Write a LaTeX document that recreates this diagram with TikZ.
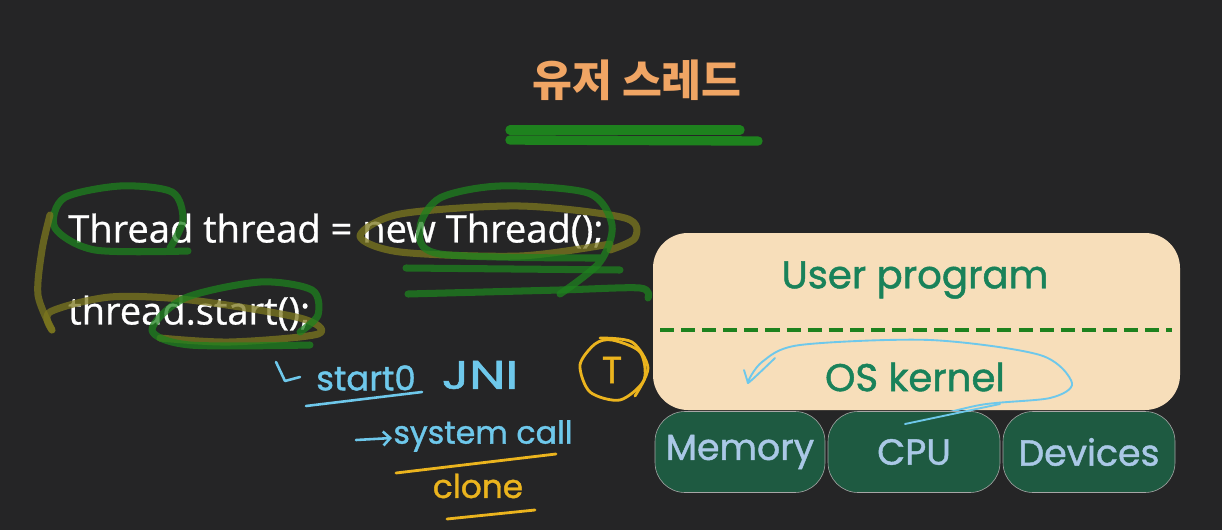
\documentclass[tikz,border=0pt]{standalone}
\usepackage{fontspec}
\setmainfont{Open Sans}
\newfontfamily\codefont{Open Sans}[FakeBold=0.8]
\newfontfamily\krfont{Noto Sans CJK KR}
\newfontfamily\handfont{Poppins}[FakeBold=1.2]
\usepackage{tikz}
\usetikzlibrary{calc,arrows.meta}

\definecolor{boardbg}{RGB}{37,37,38}
\definecolor{titleorange}{RGB}{240,165,100}
\definecolor{markgreen}{RGB}{30,130,30}
\definecolor{markolive}{RGB}{125,120,30}
\definecolor{penblue}{RGB}{110,200,235}
\definecolor{penyellow}{RGB}{235,180,30}
\definecolor{peach}{RGB}{247,222,186}
\definecolor{labelgreen}{RGB}{25,130,90}
\definecolor{boxgreen}{RGB}{30,90,65}
\definecolor{boxtext}{RGB}{170,200,230}

\tikzset{
  hlgreen/.style={line width=6pt, color=markgreen, opacity=0.75, line cap=round, line join=round},
  hlolive/.style={line width=6pt, color=markolive, opacity=0.75, line cap=round, line join=round},
  pen/.style={line width=2.2pt, color=penblue, line cap=round, line join=round},
  yellowpen/.style={line width=2.4pt, color=penyellow, line cap=round, line join=round},
  codeline/.style={anchor=west, text=white, font=\codefont\fontsize{32.5}{38}\selectfont, inner sep=0pt},
  hwlabel/.style={text=labelgreen, font=\handfont\fontsize{33}{38}\selectfont},
  hwnote/.style={text=penblue, font=\handfont\fontsize{29}{34}\selectfont},
  hwbox/.style={draw=gray!70, line width=0.5pt, fill=boxgreen, rounded corners=30*0.03cm,
    text=boxtext, font=\handfont\fontsize{31}{36}\selectfont},
}

\begin{document}
\begin{tikzpicture}[x=0.03cm, y=-0.03cm]
		%%%%% START %%%%%
		
		\fill[boardbg] (0, 0) rectangle (1222, 530);
		\useasboundingbox (0, 0) rectangle (1222, 530);
		
		% title
		\node[text=titleorange, font=\krfont\bfseries\fontsize{37}{42}\selectfont] (title) at (637, 80) {유저 스레드};
		\draw[line width=8pt, color=markgreen, line cap=round] (510, 130) -- (740, 130);
		\draw[line width=8pt, color=markgreen, line cap=round] (510, 140) -- (758, 141);
		
		% code
		\node[codeline] (line1) at (68, 231) {Thread thread = new Thread();};
		\node[codeline] (line2) at (68, 313) {thread.start();};
		
		% highlighter marks
		\draw[hlgreen] plot[smooth] coordinates {(188, 251) (95, 250) (55, 228) (64, 198) (120, 186) (172, 192) (183, 220) (170, 248)};
		\draw[hlolive] plot[smooth] coordinates {(50, 215) (42, 250) (38, 295) (52, 330)};
		\draw[hlolive] plot[smooth] coordinates {(52, 330) (50, 312) (110, 297) (190, 300) (300, 318) (318, 334) (230, 342) (160, 338)};
		\draw[hlgreen] plot[smooth] coordinates {(310, 345) (190, 345) (152, 330) (185, 298) (260, 282) (312, 290) (318, 315) (300, 332)};
		\draw[hlolive] plot[smooth] coordinates {(610, 244) (520, 256) (400, 252) (360, 236) (400, 214) (520, 206) (625, 218) (635, 238) (610, 250)};
		\draw[hlgreen] plot[smooth] coordinates {(560, 294) (600, 262) (612, 225) (588, 193) (500, 186) (440, 198) (420, 228) (440, 254) (600, 258)};
		\draw[hlgreen] (406, 268) -- (620, 270);
		\draw[hlgreen] plot[smooth] coordinates {(408, 294) (560, 290) (640, 288) (648, 298)};
		
		% notes
		\draw[pen] (276, 362) -- (285, 381) -- (300, 377);
		\node[hwnote] (startzero) at (366, 378) {start0};
		\draw[pen] (306, 406) -- (422, 392);
		\node[hwnote, font=\handfont\fontsize{34}{38}\selectfont, xscale=1.3] (jni) at (480, 375) {JNI};
		\draw[pen, -{Straight Barb[length=6pt]}] (356, 440) -- (392, 438);
		\node[hwnote, font=\handfont\fontsize{27}{32}\selectfont] (syscall) at (483, 436) {system call};
		\draw[yellowpen] (396, 473) -- (556, 454);
		\node[text=penyellow, font=\handfont\fontsize{28}{32}\selectfont] (clone) at (478, 486) {clone};
		\draw[yellowpen] (447, 519) -- (535, 510);
		
		% thread mark
		\node[text=penyellow, font=\handfont\fontsize{32}{36}\selectfont] (tmark) at (612, 370) {T};
		\draw[yellowpen] plot[smooth cycle] coordinates {(612, 340) (640, 352) (644, 380) (620, 400) (590, 392) (580, 365) (595, 344)};
		\draw[yellowpen] plot[smooth] coordinates {(600, 338) (632, 342) (648, 368) (635, 396)};
		
		% layers
		\draw[fill=peach, draw=none, rounded corners=35*0.03cm] (653, 233) rectangle (1180, 410);
		\node[hwlabel] (user) at (915, 280) {User program};
		\draw[line width=3pt, color=markgreen, dash pattern=on 12pt off 6pt] (660, 330) -- (1172, 330);
		\node[hwlabel] (kernel) at (915, 377) {OS kernel};
		\draw[line width=1.6pt, color=penblue, line cap=round, line join=round] plot[smooth] coordinates {(905, 424) (980, 405) (1050, 398) (1072, 383) (1040, 355) (930, 340) (800, 345) (762, 362) (748, 383) (775, 358)};
		\draw[line width=1.6pt, color=penblue, line cap=round] (748, 383) -- (744, 370);
		
		\node[hwbox, minimum width=170*0.03cm, minimum height=81*0.03cm] (memory) at (740, 452) {Memory};
		\node[hwbox, minimum width=172*0.03cm, minimum height=81*0.03cm] (cpu) at (914, 452) {CPU};
		\node[hwbox, minimum width=172*0.03cm, minimum height=81*0.03cm] (devices) at (1089, 452) {Devices};
		\draw[line width=1.6pt, color=penblue, line cap=round] (905, 424) -- (1000, 404);
		
		%%%%% END %%%%%
	\end{tikzpicture}
\end{document}
